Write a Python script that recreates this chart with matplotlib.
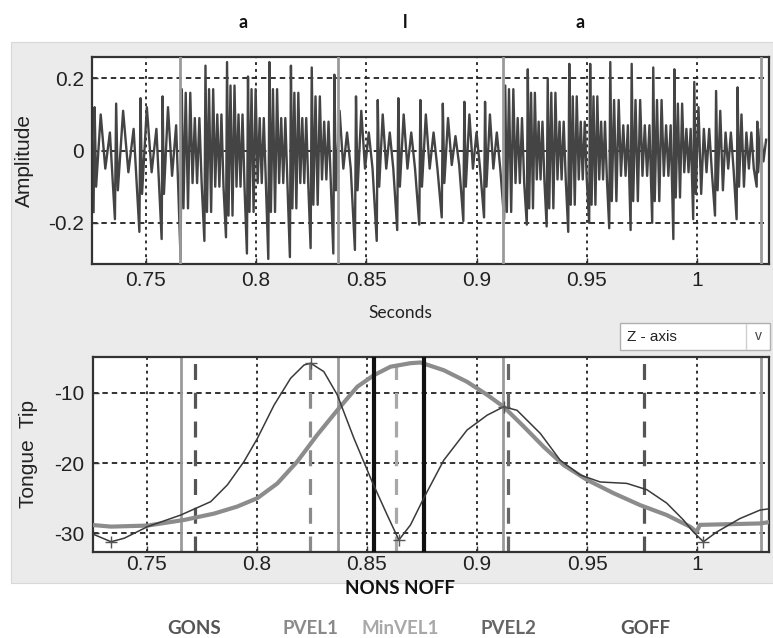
import matplotlib.pyplot as plt
from matplotlib.patches import Rectangle

# ---- waveform: one entry per glottal pulse ----
pulse_t = [0.7262, 0.7359, 0.7470, 0.7571, 0.7657, 0.7765, 0.7863, 0.7958,
           0.8055, 0.8153, 0.8247, 0.8350, 0.8448, 0.8547, 0.8640, 0.8740,
           0.8842, 0.8940, 0.9034, 0.9125, 0.9228, 0.9318, 0.9416, 0.9511,
           0.9602, 0.9699, 0.9797, 0.9893, 0.9983, 1.0082, 1.0180, 1.0271]
pulse_lo = [-0.17, -0.19, -0.225, -0.245, -0.30, -0.25, -0.24, -0.285,
            -0.30, -0.295, -0.27, -0.285, -0.275, -0.25, -0.22, -0.205,
            -0.185, -0.195, -0.185, -0.19, -0.205, -0.21, -0.225, -0.20,
            -0.215, -0.22, -0.20, -0.245, -0.19, -0.18, -0.19, -0.10]
pulse_hi = [0.12, 0.13, 0.145, 0.15, 0.17, 0.235, 0.245, 0.205,
            0.245, 0.235, 0.23, 0.21, 0.15, 0.14, 0.145, 0.14,
            0.13, 0.135, 0.135, 0.18, 0.225, 0.20, 0.24, 0.24,
            0.245, 0.24, 0.23, 0.225, 0.19, 0.165, 0.175, 0.08]
# oscillation size just after each spike, and near the end of the period
pulse_ring = [0.10, 0.11, 0.12, 0.12, 0.16, 0.17, 0.18, 0.17,
              0.17, 0.16, 0.15, 0.11, 0.11, 0.10, 0.10, 0.10,
              0.09, 0.10, 0.10, 0.17, 0.16, 0.16, 0.15, 0.15,
              0.14, 0.14, 0.14, 0.13, 0.12, 0.11, 0.10, 0.06]
pulse_tail = [0.05, 0.06, 0.06, 0.07, 0.09, 0.10, 0.10, 0.09,
              0.09, 0.09, 0.08, 0.05, 0.05, 0.05, 0.05, 0.05,
              0.04, 0.05, 0.05, 0.09, 0.08, 0.08, 0.08, 0.08,
              0.07, 0.07, 0.07, 0.06, 0.06, 0.05, 0.05, 0.03]
pulse_n = [4, 4, 4, 4, 9, 9, 9, 9, 9, 9, 9, 5, 5, 5, 5, 5,
           5, 5, 5, 9, 9, 9, 9, 9, 8, 8, 8, 8, 7, 7, 7, 4]

# ---- tongue tip traces ----
thin_t = [0.7246, 0.7337, 0.7397, 0.7503, 0.7654, 0.7790, 0.7866, 0.7941,
          0.8002, 0.8078, 0.8153, 0.8214, 0.8244, 0.8304, 0.8365, 0.8441,
          0.8524, 0.8592, 0.8645, 0.8698, 0.8758, 0.8849, 0.8955, 0.9046,
          0.9121, 0.9182, 0.9288, 0.9378, 0.9469, 0.9560, 0.9681, 0.9772,
          0.9862, 0.9938, 0.9983, 1.0029, 1.0090, 1.0195, 1.0286, 1.0330]
thin_v = [-30.0, -31.2, -30.7, -29.05, -27.4, -25.5, -23.1, -19.8,
          -16.5, -11.75, -7.95, -6.06, -5.8, -7.0, -10.3, -16.5,
          -22.7, -27.4, -30.95, -28.8, -25.0, -19.6, -15.3, -13.2,
          -12.0, -12.5, -15.8, -19.6, -21.7, -22.7, -22.9, -23.8,
          -25.7, -28.1, -29.8, -31.2, -29.8, -27.9, -26.7, -26.5]
thick_t = [0.7246, 0.7337, 0.7503, 0.7669, 0.7805, 0.7910, 0.8002, 0.8093,
           0.8183, 0.8274, 0.8365, 0.8456, 0.8532, 0.8607, 0.8698, 0.8743,
           0.8849, 0.8955, 0.9046, 0.9121, 0.9212, 0.9303, 0.9394, 0.9500,
           0.9621, 0.9742, 0.9862, 0.9968, 0.9998, 1.0013, 1.0286, 1.0330]
thick_v = [-28.8, -29.05, -28.9, -28.1, -27.2, -26.2, -25.0, -22.9,
           -19.8, -16.0, -12.5, -9.15, -7.5, -6.3, -5.8, -5.7,
           -6.8, -8.45, -10.3, -12.0, -14.8, -17.7, -20.3, -22.4,
           -24.3, -26.0, -27.4, -29.05, -29.8, -28.8, -28.6, -28.4]
extrema_t = [0.7337, 0.8244, 0.8645, 0.9121, 1.0029]
extrema_v = [-31.2, -5.8, -31.0, -12.0, -31.2]

# ---- landmarks ----
segment_t = [0.7655, 0.8370, 0.9120, 1.0290]
gest_names = ["GONS", "PVEL1", "MinVEL1", "PVEL2", "GOFF"]
gest_t = [0.772, 0.824, 0.863, 0.914, 0.976]
gest_col = ["#555555", "#8a8a8a", "#a8a8a8", "#666666", "#555555"]
nucleus_t = [0.853, 0.876]
phones = ["a", "l", "a"]
phone_x = [243, 405, 580]

x_ticks = [0.75, 0.8, 0.85, 0.9, 0.95, 1.0]
x_ticklabels = ["0.75", "0.8", "0.85", "0.9", "0.95", "1"]
amp_ticks = [-0.2, 0, 0.2]
amp_ticklabels = ["-0.2", "0", "0.2"]
tip_ticks = [-30, -20, -10]
tip_ticklabels = ["-30", "-20", "-10"]

W, H = 773, 638
narrow = ["Liberation Sans", "DejaVu Sans"]
fig = plt.figure(figsize=(W / 100, H / 100), dpi=100)
fig.patch.set_facecolor("white")


def box(x0, y0, x1, y1):
    return [x0 / W, 1 - y1 / H, (x1 - x0) / W, (y1 - y0) / H]


panel = fig.add_axes([0, 0, 1, 1], zorder=-5)
panel.set_xlim(0, W)
panel.set_ylim(H, 0)
panel.axis("off")
panel.add_patch(Rectangle((11, 42), W - 11, 541, facecolor="#ebebeb", edgecolor="#d8d8d8", lw=0.8))
# drop-down box
panel.add_patch(Rectangle((620, 323), 150, 27, facecolor="white", edgecolor="#b0b0b0", lw=1))
panel.plot([746, 746], [324, 349], color="#d0d0d0", lw=1)
panel.text(627, 337, "Z - axis", family=narrow, fontsize=11, va="center", ha="left", color="#222222")
panel.text(758, 336, "v", family=narrow, fontsize=10, va="center", ha="center", color="#444444")

for name, x in zip(phones, phone_x):
    panel.text(x, 22, name, family="Lato", fontweight="bold", fontsize=13, ha="center", va="center", color="#111111")
panel.text(400, 313, "Seconds", family="Lato", fontsize=12.5, ha="center", va="center", color="#222222")
panel.text(400, 589, "NONS NOFF", family="Lato", fontweight="bold", fontsize=13.5, ha="center", va="center", color="#111111")
label_x = [194, 310, 400, 508, 645]
for name, x, c in zip(gest_names, label_x, gest_col):
    panel.text(x, 628, name, family="Lato", fontweight="bold", fontsize=13.5, ha="center", va="center", color=c)


def style(ax, pad):
    for s in ax.spines.values():
        s.set_color("#333333")
        s.set_linewidth(1.6)
    ax.tick_params(direction="in", length=4, width=1, colors="#333333", labelsize=15)
    ax.tick_params(axis="x", pad=pad)
    ax.tick_params(axis="y", pad=6)
    for lab in ax.get_xticklabels() + ax.get_yticklabels():
        lab.set_family(narrow)
        lab.set_color("#222222")


def grid(ax, yticks):
    for x in x_ticks:
        ax.axvline(x, color="#222222", lw=1.3, ls=(0, (1.6, 2.2)), zorder=1)
    for y in yticks:
        ax.axhline(y, color="#222222", lw=1.3, ls=(0, (3, 2.2)), zorder=1)


# ---- top: waveform ----
ax1 = fig.add_axes(box(92, 57, 769, 264))
xlim = (0.7255, 1.0327)
wx, wy = [], []
for i, t0 in enumerate(pulse_t):
    t1 = pulse_t[i + 1] if i + 1 < len(pulse_t) else xlim[1]
    p = t1 - t0
    wx += [t0, t0 + 0.05 * p]
    wy += [pulse_lo[i], pulse_hi[i]]
    n = pulse_n[i]
    for k in range(n):
        a = pulse_ring[i] if k < n // 2 else pulse_tail[i]
        wx.append(t0 + p * (0.12 + 0.86 * k / n))
        wy.append(-a if k % 2 == 0 else a)
grid(ax1, amp_ticks)
ax1.plot(wx, wy, color="#444444", lw=1.7, zorder=2)
for t in segment_t:
    ax1.axvline(t, color="#9a9a9a", lw=2, zorder=3)
ax1.set_xlim(*xlim)
ax1.set_ylim(-0.314, 0.259)
ax1.set_xticks(x_ticks, x_ticklabels)
ax1.set_yticks(amp_ticks, amp_ticklabels)
ax1.set_ylabel("Amplitude", family=narrow, fontsize=15, color="#222222", labelpad=10)
style(ax1, 5)

# ---- bottom: tongue tip ----
ax2 = fig.add_axes(box(93, 357, 769, 552))
grid(ax2, tip_ticks)
for t in segment_t:
    ax2.axvline(t, color="#9a9a9a", lw=2, zorder=2)
for t, c in zip(gest_t, gest_col):
    ax2.axvline(t, color=c, lw=2.3, ls=(0, (5, 4)), zorder=2)
for t in nucleus_t:
    ax2.axvline(t, color="#111111", lw=3, zorder=4)
ax2.plot(thick_t, thick_v, color="#8c8c8c", lw=3, zorder=3)
ax2.plot(thin_t, thin_v, color="#3a3a3a", lw=1.1, zorder=5)
ax2.plot(extrema_t, extrema_v, ls="none", marker="+", ms=9, mew=1, color="#555555", zorder=5)
ax2.set_xlim(*xlim)
ax2.set_ylim(-32.66, -4.92)
ax2.set_xticks(x_ticks, x_ticklabels)
ax2.set_yticks(tip_ticks, tip_ticklabels)
ax2.set_ylabel("Tongue  Tip", family=narrow, fontsize=15, color="#222222", labelpad=12)
style(ax2, 2)

fig.savefig("out.png", dpi=100)
